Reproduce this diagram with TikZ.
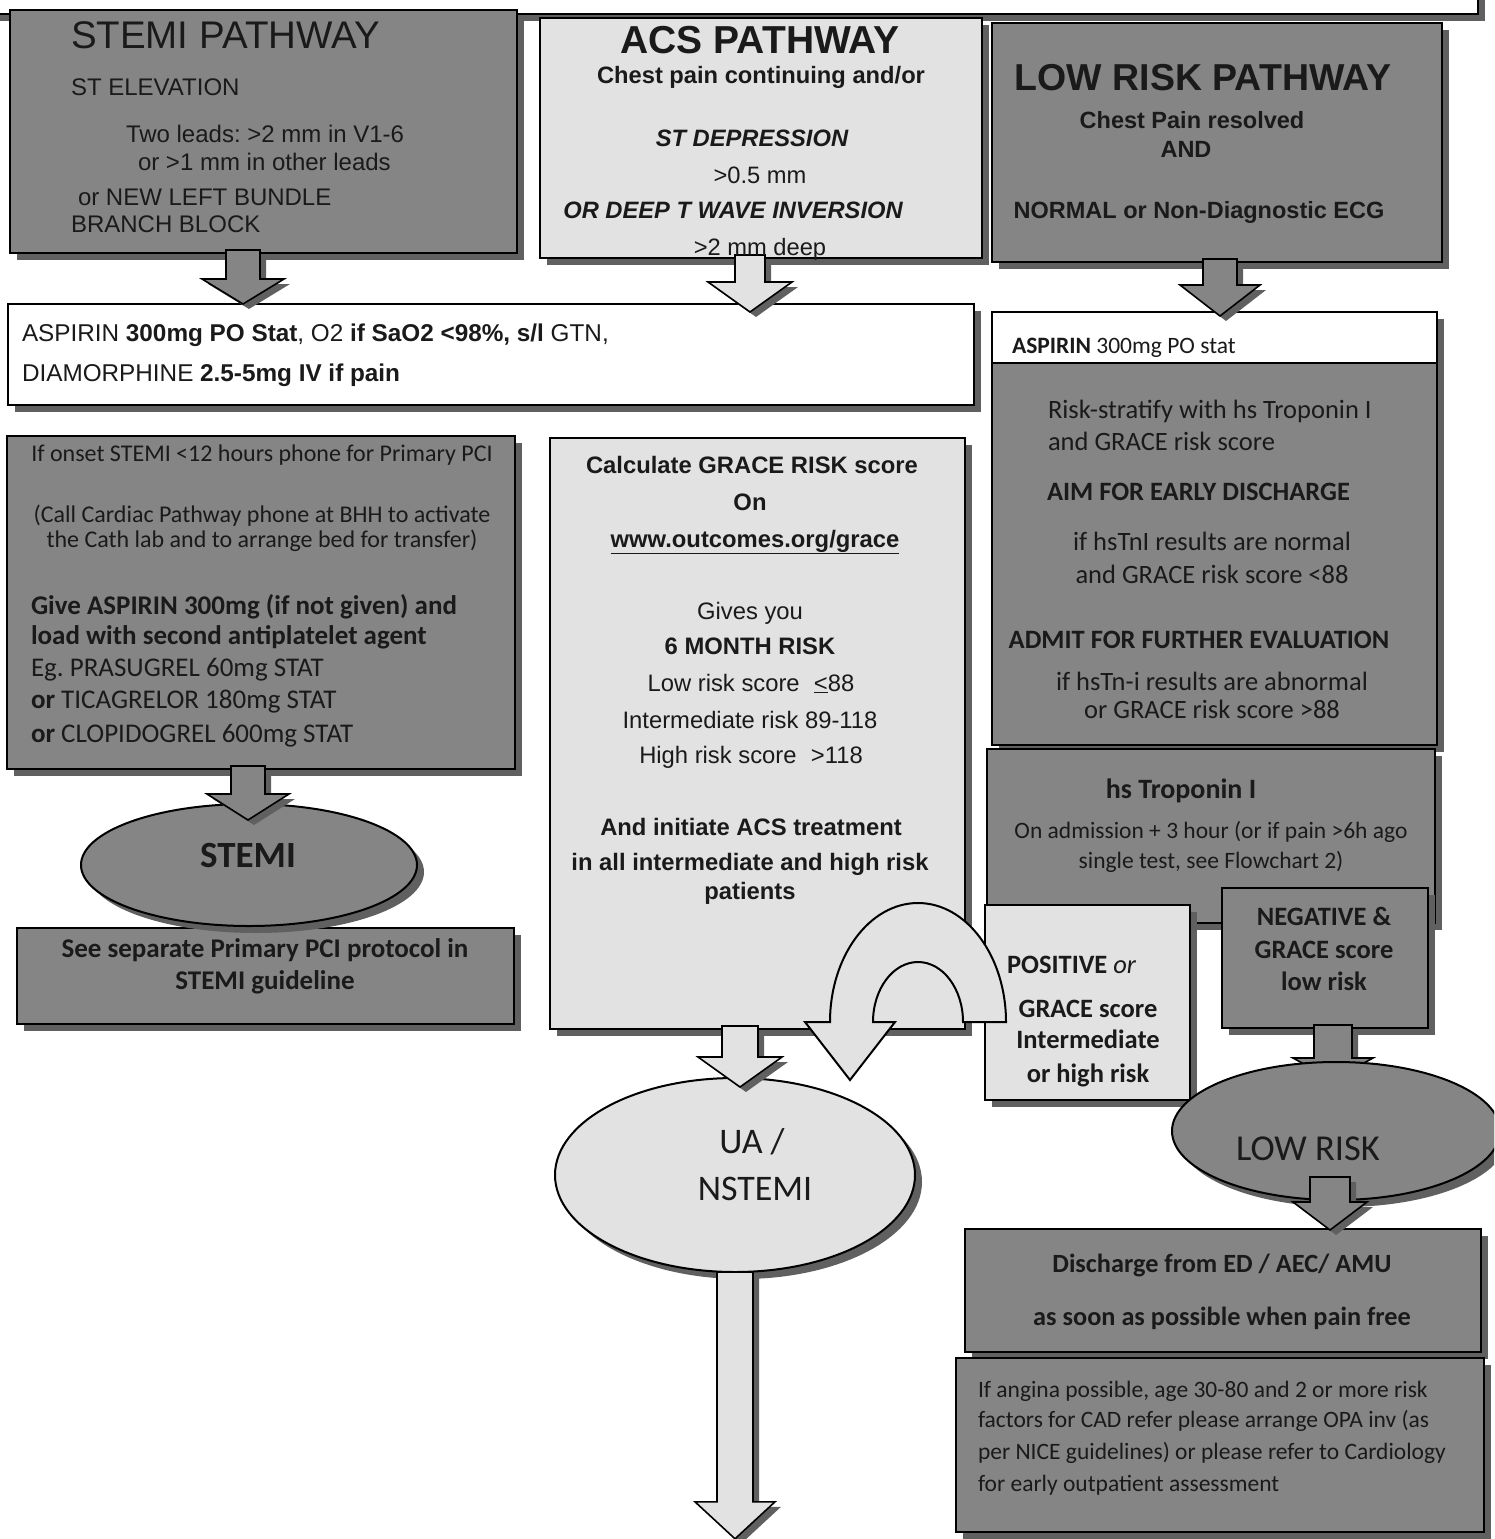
\documentclass[tikz,border=0pt]{standalone}
\usepackage{fontspec}
\setmainfont{Liberation Sans}
\newfontfamily\calib{Carlito}
\usetikzlibrary{shapes.geometric,shadows,calc}
\definecolor{darkfill}{HTML}{858585}
\definecolor{lightfill}{HTML}{E2E2E2}
\definecolor{shadowc}{HTML}{606060}
\definecolor{ink}{HTML}{1A1A1A}
\newcommand\fsz[1]{\fontsize{#1}{#1}\selectfont}
\tikzset{
  shad/.style={drop shadow={shadow xshift=7pt,shadow yshift=-7pt,fill=shadowc,opacity=1}},
  box/.style={draw=black,line width=2pt,inner sep=0pt,outer sep=0pt,anchor=north west,shad},
  darkbox/.style={box,fill=darkfill},
  lightbox/.style={box,fill=lightfill},
  whitebox/.style={box,fill=white},
  ellnode/.style={ellipse,draw=black,line width=2pt,inner sep=0pt,outer sep=0pt,shad},
  blockar/.style={draw=black,line width=1.6pt,line join=miter,
     drop shadow={shadow xshift=6pt,shadow yshift=-5pt,fill=shadowc,opacity=1}},
  txt/.style={inner sep=0pt,outer sep=0pt,text=ink,anchor=base},
  txtl/.style={txt,anchor=base west},
}
% box by corners: name, style, x1, y1, x2, y2
\newcommand\boxnode[6]{\node[#2,minimum width={((#5)-(#3))*1pt},minimum height={((#6)-(#4))*1pt}] (#1) at (#3,#4) {};}
% block arrow: fill, from node, to node, cx, shaft half, head half, head length, top overlap, tip overshoot
\newcommand\blockarrow[9]{%
  \path[blockar,fill=#1] let \p1=(#2.south), \p2=(#3.north) in
   ({(#4-#5)*1pt},{\y1+#8pt}) -- ({(#4+#5)*1pt},{\y1+#8pt})
   -- ({(#4+#5)*1pt},{\y2-#9pt+#7pt}) -- ({(#4+#6)*1pt},{\y2-#9pt+#7pt})
   -- ({#4*1pt},{\y2-#9pt}) -- ({(#4-#6)*1pt},{\y2-#9pt+#7pt})
   -- ({(#4-#5)*1pt},{\y2-#9pt+#7pt}) -- cycle;}
\begin{document}
\frenchspacing
\begin{tikzpicture}[x=1pt,y=-1pt]
\useasboundingbox (0,0) rectangle (1494,1539);
\fill[white] (0,0) rectangle (1494,1539);
\clip (0,0) rectangle (1494,1539);

% ---- boxes ----
\boxnode{topbox}{whitebox}{-10}{-40}{1478}{14}
\boxnode{stemi}{darkbox}{10}{10}{517}{253}
\boxnode{acs}{lightbox}{540}{18}{982}{258}
\boxnode{lowrisk}{darkbox}{992}{23}{1442}{262}
\boxnode{asp1}{whitebox}{8}{304}{974}{405}
\boxnode{asp2}{whitebox}{992}{312}{1437}{363}
\boxnode{risk}{darkbox}{992}{363}{1437}{745}
\boxnode{hstrop}{darkbox}{987}{749}{1435}{923}
\blockarrow{darkfill}{stemi}{asp1}{243}{17}{41}{25}{3}{0}
\blockarrow{lightfill}{acs}{asp1}{750}{15}{42}{30}{3}{8}
\blockarrow{darkfill}{lowrisk}{asp2}{1220}{17}{40}{31}{3}{4}

% left column
\boxnode{onset}{darkbox}{7}{436}{515}{769}
\boxnode{sepbox}{darkbox}{17}{928}{514}{1024}
\node[ellnode,fill=darkfill,minimum width=336pt,minimum height=122pt] (stemiell) at (249,865) {};
\blockarrow{darkfill}{onset}{stemiell}{248}{17}{41}{26}{3}{16}

% middle column
\boxnode{grace}{lightbox}{550}{438}{965}{1029}
\node[ellnode,fill=lightfill,minimum width=360pt,minimum height=194pt] (uaell) at (735,1175) {};
\blockarrow{lightfill}{grace}{uaell}{740}{18}{42}{30}{3}{9}
\node[inner sep=0pt,minimum size=0pt] (endA) at (735,1539) {};
\blockarrow{lightfill}{uaell}{endA}{735}{18}{40}{37}{0}{0}

% right column
\boxnode{positive}{lightbox}{985}{905}{1190}{1100}
\boxnode{negative}{darkbox}{1222}{888}{1428}{1028}
\coordinate (uc) at (918,1022);
\path[draw=black,line width=2pt,fill=lightfill,line join=miter]
  let \p1=(uc) in
  ({\x1+88pt},\y1) arc[start angle=0,end angle=180,x radius=88pt,y radius=119pt]
  -- ({\x1-113pt},\y1) -- ({\x1-68pt},{\y1-58pt}) -- ({\x1-23pt},\y1)
  -- ({\x1-45pt},\y1) arc[start angle=180,end angle=0,x radius=45pt,y radius=60pt]
  -- cycle;
% outline of the low-risk ellipse (anchors), arrow behind it, then the ellipse itself
\node[ellipse,inner sep=0pt,outer sep=0pt,minimum width=328pt,minimum height=138pt] (lowell) at (1336,1131) {};
\blockarrow{darkfill}{negative}{lowell}{1333}{19}{40}{22}{3}{18}
\node[ellnode,fill=darkfill,minimum width=328pt,minimum height=138pt] (lowellshape) at (lowell) {};
\boxnode{discharge}{darkbox}{965}{1229}{1481}{1352}
\boxnode{angina}{darkbox}{956}{1358}{1484}{1532}
\blockarrow{darkfill}{lowell}{discharge}{1330}{20}{37}{28}{23}{1}

% ---- texts ----
% STEMI pathway
\node[txtl] (s1) at (71,48) {\fsz{38.5}STEMI PATHWAY};
\node[txtl] (s2) at (71,95) {\fsz{24}ST ELEVATION};
\node[txtl] (s3) at (126,142) {\fsz{24}Two leads: >2 mm in V1-6};
\node[txtl] (s4) at (138,170) {\fsz{24}or >1 mm in other leads};
\node[txtl] (s5) at (78,205) {\fsz{24}or NEW LEFT BUNDLE};
\node[txtl] (s6) at (71,232) {\fsz{24}BRANCH BLOCK};
% ACS pathway
\node[txt] (c1) at (760,53) {\fsz{39}\bfseries ACS PATHWAY};
\node[txt] (c2) at (761,83) {\fsz{23.7}\bfseries Chest pain continuing and/or};
\node[txt] (c3) at (752,146) {\fsz{23.7}\bfseries\itshape ST DEPRESSION};
\node[txt] (c4) at (760,183) {\fsz{23.7}>0.5 mm};
\node[txt] (c5) at (733,218) {\fsz{23.7}\bfseries\itshape OR DEEP T WAVE INVERSION};
\node[txt] (c6) at (760,255) {\fsz{23.7}>2 mm deep};
% Low risk pathway
\node[txt] (l1) at (1203,90) {\fsz{37.5}\bfseries LOW RISK PATHWAY};
\node[txt] (l2) at (1192,128) {\fsz{23.5}\bfseries Chest Pain resolved};
\node[txt] (l3) at (1186,157) {\fsz{23.5}\bfseries AND};
\node[txt] (l4) at (1199,218) {\fsz{23.5}\bfseries NORMAL or Non-Diagnostic ECG};
% aspirin rows
\node[txtl] (w1) at (22,341) {\fsz{24.3}ASPIRIN \textbf{300mg PO Stat}, O2 \textbf{if SaO2 <98\%, s/l} GTN,};
\node[txtl] (w2) at (22,381) {\fsz{24.3}DIAMORPHINE \textbf{2.5-5mg IV if pain}};
\node[txtl] (r0) at (1012,353) {\calib\fsz{23.5}\textbf{ASPIRIN} 300mg PO stat};
% risk stratify
\node[txtl] (r1) at (1048,418) {\calib\fsz{26.5}Risk-stratify with hs Troponin I};
\node[txtl] (r2) at (1048,450) {\calib\fsz{26.5}and GRACE risk score};
\node[txtl] (r3) at (1047,500) {\calib\fsz{26.5}\bfseries AIM FOR EARLY DISCHARGE};
\node[txt] (r4) at (1212,550) {\calib\fsz{26.5}if hsTnI results are normal};
\node[txt] (r5) at (1212,583) {\calib\fsz{26.5}and GRACE risk score <88};
\node[txt] (r6) at (1199,648) {\calib\fsz{26.5}\bfseries ADMIT FOR FURTHER EVALUATION};
\node[txt] (r7) at (1212,690) {\calib\fsz{26.5}if hsTn-i results are abnormal};
\node[txt] (r8) at (1212,718) {\calib\fsz{26.5}or GRACE risk score >88};
% hs troponin
\node[txt] (h1) at (1181,798) {\calib\fsz{28}\bfseries hs Troponin I};
\node[txt] (h2) at (1211,838) {\calib\fsz{23.5}On admission + 3 hour (or if pain >6h ago};
\node[txt] (h3) at (1211,868) {\calib\fsz{23.5}single test, see Flowchart 2)};
% positive / negative
\node[txtl] (p1) at (1007,973) {\calib\fsz{26.5}\textbf{POSITIVE} \textit{or}};
\node[txt] (p2) at (1088,1017) {\calib\fsz{26.5}\bfseries GRACE score};
\node[txt] (p3) at (1088,1048) {\calib\fsz{26.5}\bfseries Intermediate};
\node[txt] (p4) at (1088,1082) {\calib\fsz{26.5}\bfseries or high risk};
\node[txt] (n1) at (1324,925) {\calib\fsz{26.5}\bfseries NEGATIVE \&};
\node[txt] (n2) at (1324,958) {\calib\fsz{26.5}\bfseries GRACE score};
\node[txt] (n3) at (1324,990) {\calib\fsz{26.5}\bfseries low risk};
\node[txt] (lr) at (1308,1160) {\calib\fsz{36.5}LOW RISK};
% discharge
\node[txt] (d1) at (1222,1272) {\calib\fsz{26.3}\bfseries Discharge from ED / AEC/ AMU};
\node[txt] (d2) at (1222,1325) {\calib\fsz{26.3}\bfseries as soon as possible when pain free};
\node[txtl] (g1a) at (978,1397) {\calib\fsz{23.5}If angina possible, age 30-80 and 2 or more risk};
\node[txtl] (g2a) at (978,1427) {\calib\fsz{23.5}factors for CAD refer please arrange OPA inv (as};
\node[txtl] (g3a) at (978,1459) {\calib\fsz{23.5}per NICE guidelines) or please refer to Cardiology};
\node[txtl] (g4a) at (978,1491) {\calib\fsz{23.5}for early outpatient assessment};
% left column
\node[txt] (o1) at (262,461) {\calib\fsz{24}If onset STEMI <12 hours phone for Primary PCI};
\node[txt] (o2) at (262,522) {\calib\fsz{24}(Call Cardiac Pathway phone at BHH to activate};
\node[txt] (o3) at (262,547) {\calib\fsz{24}the Cath lab and to arrange bed for transfer)};
\node[txtl] (o4) at (31,614) {\calib\fsz{27}\bfseries Give ASPIRIN 300mg (if not given) and};
\node[txtl] (o5) at (31,644) {\calib\fsz{27}\bfseries load with second antiplatelet agent};
\node[txtl] (o6) at (31,676) {\calib\fsz{27}Eg. PRASUGREL 60mg STAT};
\node[txtl] (o7) at (31,708) {\calib\fsz{27}\textbf{or} TICAGRELOR 180mg STAT};
\node[txtl] (o8) at (31,742) {\calib\fsz{27}\textbf{or} CLOPIDOGREL 600mg STAT};
\node[txt] (st) at (248,867) {\calib\fsz{37}\bfseries STEMI};
\node[txt] (sp1) at (265,957) {\calib\fsz{27}\bfseries See separate Primary PCI protocol in};
\node[txt] (sp2) at (265,989) {\calib\fsz{27}\bfseries STEMI guideline};
% GRACE box
\node[txt] (k1) at (752,473) {\fsz{23.8}\bfseries Calculate GRACE RISK score};
\node[txt] (k2) at (750,510) {\fsz{23.8}\bfseries On};
\node[txt] (k3) at (755,547) {\fsz{23.8}\bfseries\underline{www.outcomes.org/grace}};
\node[txt] (k4) at (750,619) {\fsz{23.8}Gives you};
\node[txt] (k5) at (750,654) {\fsz{23.8}\bfseries 6 MONTH RISK};
\node[txt] (k6) at (751,691) {\fsz{23.8}Low risk score\hspace{0.6em}\underline{<}88};
\node[txt] (k7) at (750,728) {\fsz{23.8}Intermediate risk 89-118};
\node[txt] (k8) at (751,763) {\fsz{23.8}High risk score\hspace{0.6em}>118};
\node[txt] (k9) at (751,835) {\fsz{23.8}\bfseries And initiate ACS treatment};
\node[txt] (k10) at (750,870) {\fsz{23.8}\bfseries in all intermediate and high risk};
\node[txt] (k11) at (750,899) {\fsz{23.8}\bfseries patients};
% UA/NSTEMI
\node[txt] (u1) at (752,1153) {\calib\fsz{36}UA /};
\node[txt] (u2) at (755,1200) {\calib\fsz{36}NSTEMI};
\end{tikzpicture}
\end{document}
